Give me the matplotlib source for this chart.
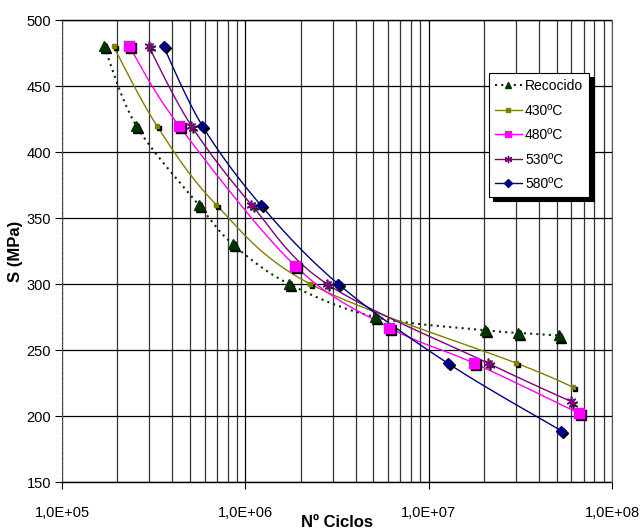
import numpy as np
import matplotlib.pyplot as plt
from matplotlib.lines import Line2D
from matplotlib.ticker import FixedLocator, FuncFormatter
import matplotlib.transforms as mtransforms

plt.rcParams['font.family'] = ['Liberation Sans Narrow', 'Liberation Sans', 'DejaVu Sans']

# data
rec_n = [1.70e5, 2.54e5, 5.56e5, 8.57e5, 1.73e6, 5.09e6, 2.03e7, 3.06e7, 5.13e7]
rec_s = [480, 420, 360, 330, 300, 275, 265, 263, 261]

t430_n = [1.91e5, 3.29e5, 6.94e5, 2.26e6, 3.01e7, 6.10e7]
t430_s = [480, 420, 360, 300, 240, 222]

t480_n = [2.33e5, 4.34e5, 1.86e6, 6.09e6, 1.77e7, 6.61e7]
t480_s = [480, 420, 314, 267, 240, 202]

t530_n = [2.97e5, 5.07e5, 1.08e6, 2.79e6, 2.11e7, 5.97e7]
t530_s = [480, 420, 360, 300, 240, 211]

t580_n = [3.58e5, 5.82e5, 1.21e6, 3.21e6, 1.27e7, 5.26e7]
t580_s = [480, 420, 360, 300, 240, 189]

labels = ['Recocido', '430ºC', '480ºC', '530ºC', '580ºC']
colors = ['#003300', '#808000', '#FF00FF', '#800080', '#000080']


def smooth(n, s, k=20):
    # catmull-rom like Excel "smoothed line", done in log-x / pixel-ish space
    u = np.log10(n) * 183.0
    v = np.array(s, float) * 66.0 / 50.0
    P = np.column_stack([u, v])
    P = np.vstack([P[0], P, P[-1]])
    out = []
    for i in range(1, len(P) - 2):
        p0, p1, p2, p3 = P[i - 1], P[i], P[i + 1], P[i + 2]
        for t in np.linspace(0, 1, k, endpoint=False):
            t2, t3 = t * t, t * t * t
            pt = 0.5 * ((2 * p1) + (-p0 + p2) * t + (2 * p0 - 5 * p1 + 4 * p2 - p3) * t2
                        + (-p0 + 3 * p1 - 3 * p2 + p3) * t3)
            out.append(pt)
    out.append(P[-2])
    out = np.array(out)
    return 10 ** (out[:, 0] / 183.0), out[:, 1] * 50.0 / 66.0


fig = plt.figure(figsize=(6.42, 5.31), dpi=100)
ax = fig.add_axes([62 / 642, 49 / 531, 550 / 642, 462 / 531])

ax.set_xscale('log')
ax.set_xlim(1e5, 1e8)
ax.set_ylim(150, 500)

ax.xaxis.set_major_locator(FixedLocator([1e5, 1e6, 1e7, 1e8]))
minors = [m * 10 ** e for e in (5, 6, 7) for m in range(2, 10)]
ax.xaxis.set_minor_locator(FixedLocator(minors))
ax.xaxis.set_major_formatter(FuncFormatter(lambda v, p: '1,0E+%02d' % int(round(np.log10(v)))))
ax.xaxis.set_minor_formatter(FuncFormatter(lambda v, p: ''))
ax.set_yticks(np.arange(150, 501, 50))

ax.grid(True, which='major', color='black', lw=0.9)
ax.grid(True, which='minor', axis='x', color='#333333', lw=0.9)
ax.set_axisbelow(True)

ax.tick_params(which='major', direction='out', length=5, width=0.8, labelsize=10.5, pad=12)
ax.tick_params(axis='y', pad=3)
ax.tick_params(which='minor', length=0)

for sp in ('top', 'bottom'):
    ax.spines[sp].set_linestyle((0, (1, 1)))
    ax.spines[sp].set_linewidth(1.0)
ax.spines['left'].set_linestyle((0, (3, 1.5)))
ax.spines['left'].set_color('#555555')
ax.spines['right'].set_color('#555555')

series = [(rec_n, rec_s), (t430_n, t430_s), (t480_n, t480_s), (t530_n, t530_s), (t580_n, t580_s)]
markers = ['^', 's', 's', (6, 2, 0), 'D']
msizes = [6.5, 3.5, 6.5, 7, 5.5]
lstyles = [(0, (1, 2)), '-', '-', '-', '-']
lwidths = [1.5, 1.0, 1.0, 1.0, 1.0]

shadow = ax.transData + mtransforms.ScaledTranslation(1.5 / 72, -1.5 / 72, fig.dpi_scale_trans)

handles = []
for (n, s), c, m, ms, ls, lw, lab in zip(series, colors, markers, msizes, lstyles, lwidths, labels):
    xs, ys = smooth(n, s)
    ax.plot(xs, ys, color=c, ls=ls, lw=lw, zorder=3)
    if isinstance(m, tuple):
        ax.plot(n, s, ls='none', marker=m, ms=ms, color='#222222', mew=1.2, transform=shadow, zorder=4)
        ax.plot(n, s, ls='none', marker=m, ms=ms, color=c, mew=1.2, zorder=5)
    else:
        ax.plot(n, s, ls='none', marker=m, ms=ms, color='black', transform=shadow, zorder=4)
        ax.plot(n, s, ls='none', marker=m, ms=ms, color=c, zorder=5)
    handles.append(Line2D([], [], color=c, ls=ls, lw=lw, marker=m, ms=ms * 0.75, mew=1.0))

leg = ax.legend(handles, labels, loc='upper left', bbox_to_anchor=(489 / 642, 1 - 73 / 531),
                bbox_transform=fig.transFigure, borderaxespad=0, fontsize=10, frameon=True,
                fancybox=False, edgecolor='black', framealpha=1, handlelength=1.9,
                handletextpad=0.25, labelspacing=0.75, borderpad=0.45,
                shadow={'color': 'black', 'alpha': 1, 'ox': 3, 'oy': -3})
leg.get_frame().set_linewidth(0.8)

ax.set_ylabel('S (MPa)', fontsize=12, fontweight='bold', labelpad=2)
ax.set_xlabel('Nº Ciclos', fontsize=12, fontweight='bold', labelpad=-3.5)

fig.savefig('out.png', dpi=100)
